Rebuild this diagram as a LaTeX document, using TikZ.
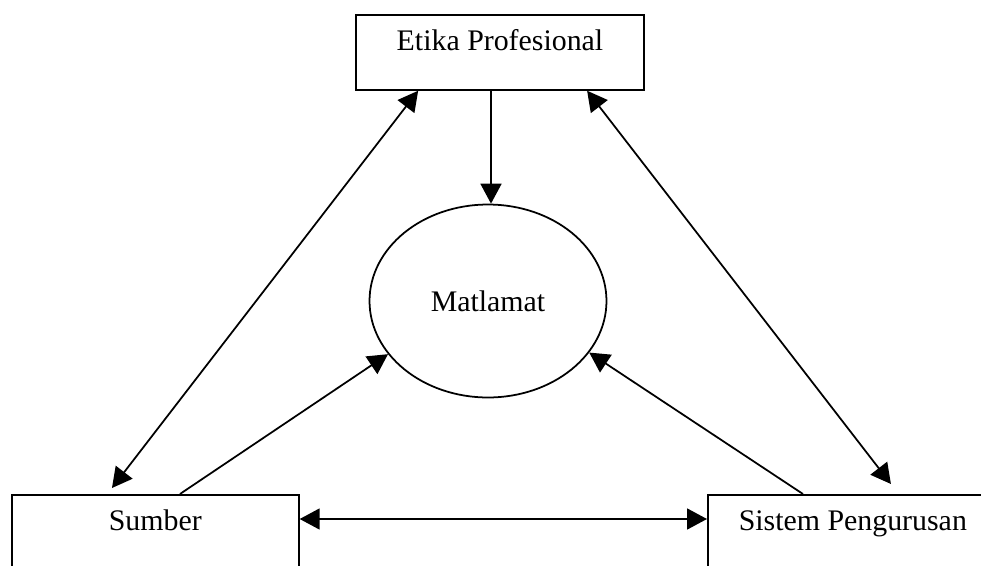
\documentclass[tikz,border=0pt]{standalone}
\usepackage{fontspec}
\setmainfont{Liberation Serif}
\usetikzlibrary{arrows.meta,shapes.geometric}

\tikzset{
  box/.style={draw, rectangle, inner sep=0pt, text height=0.72cm, text depth=0.78cm},
  goal/.style={draw, ellipse, inner sep=0pt, minimum width=4.74cm, minimum height=3.86cm},
  every picture/.style={line width=1pt, >={Triangle[length=0.4cm, width=0.42cm]}}
}

\begin{document}
\begin{tikzpicture}[x=0.02cm, y=-0.02cm, font=\fontsize{17pt}{20pt}\selectfont]
        \clip (0,0) rectangle (981,565);
        % Nodes
        \node (etika) [box, anchor=north, minimum width=5.76cm] at (500,14) {Etika Profesional};
        \node (matlamat) [goal] at (488,301) {Matlamat};
        \node (sumber) [box, anchor=north west, minimum width=5.74cm, text depth=1.2cm] at (11,494) {Sumber};
        \node (sistem) [box, anchor=north west, minimum width=5.8cm, text depth=1.2cm] at (707,494) {Sistem Pengurusan};

        % Arrows
        \draw[<->] ([xshift=1.26cm]etika.south west) -- ([xshift=2.02cm, yshift=0.12cm]sumber.north west);
        \draw[<->] ([xshift=4.64cm]etika.south west) -- ([xshift=3.68cm, yshift=0.2cm]sistem.north west);
        \draw[->] ([xshift=-0.18cm]etika.south) -- ([xshift=0.06cm]matlamat.north);
        \draw[->] ([xshift=3.38cm]sumber.north west) -- (matlamat.208);
        \draw[->] ([xshift=1.92cm]sistem.north west) -- (matlamat.333);
        \draw[<->] ([yshift=-0.5cm]sumber.north east) -- ([yshift=-0.5cm]sistem.north west);
    \end{tikzpicture}
\end{document}
